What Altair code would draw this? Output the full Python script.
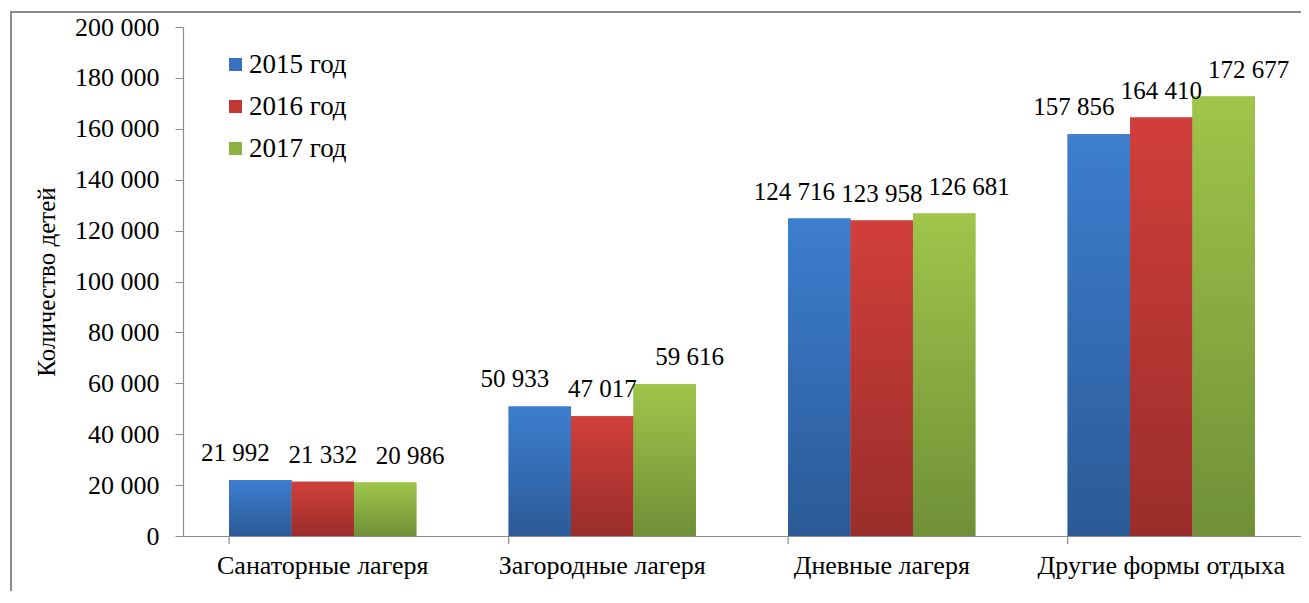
import altair as alt
import pandas as pd

categories = ["Санаторные лагеря", "Загородные лагеря", "Дневные лагеря", "Другие формы отдыха"]
years = ["2015 год", "2016 год", "2017 год"]
values_2015 = [21992, 50933, 124716, 157856]
values_2016 = [21332, 47017, 123958, 164410]
values_2017 = [20986, 59616, 126681, 172677]

top_colors = ["#3d7ecf", "#d13f3b", "#9fc54a"]
bottom_colors = ["#2b5a96", "#9a2d2b", "#6f9037"]
solid_colors = ["#3672c0", "#c33735", "#8db243"]
label_spread = [-25, 0, 25]

rows = []
for yr, vals in zip(years, [values_2015, values_2016, values_2017]):
    for c, v in zip(categories, vals):
        rows.append({"cat": c, "year": yr, "value": v,
                     "label": f"{v:,}".replace(",", " ")})
df = pd.DataFrame(rows)

W, H = 1118, 509
FONT = "'Times New Roman', 'Liberation Serif', serif"

x_enc = alt.X("cat:N", sort=categories,
              scale=alt.Scale(domain=categories, paddingInner=0.33, paddingOuter=0.165),
              axis=alt.Axis(title=None, ticks=False, labelFontSize=26, labelFont=FONT,
                            labelColor="#000", labelPadding=16, domainColor="#8c8c8c",
                            domainWidth=1.2, labelAngle=0, labelLimit=600))
xo_enc = alt.XOffset("year:N", scale=alt.Scale(domain=years, paddingInner=0, paddingOuter=0))
y_enc = alt.Y("value:Q", scale=alt.Scale(domain=[0, 200000], nice=False),
              axis=alt.Axis(title="Количество детей", titleFont=FONT, titleFontSize=25,
                            titleFontWeight="normal", titleColor="#000", titlePadding=15,
                            values=list(range(0, 200001, 20000)),
                            labelExpr="replace(format(datum.value, ','), ',', ' ')",
                            labelFont=FONT, labelFontSize=26, labelColor="#000",
                            labelPadding=16, tickSize=8, tickColor="#8c8c8c",
                            domainColor="#8c8c8c", domainWidth=1.2, grid=False))

base = alt.Chart(df)

bars = base.mark_bar().encode(
    x=x_enc, xOffset=xo_enc, y=y_enc,
    color=alt.Color("year:N", scale=alt.Scale(domain=years, range=solid_colors),
                    legend=alt.Legend(title=None, orient="none", legendX=39, legendY=24,
                                      symbolType="square", symbolSize=169,
                                      symbolStrokeWidth=0, labelFont=FONT,
                                      labelFontSize=27, labelColor="#000",
                                      labelOffset=0, rowPadding=14, padding=0)),
)

grad_layers = []
label_layers = []
for yr, tc, bc, dx in zip(years, top_colors, bottom_colors, label_spread):
    grad = alt.LinearGradient(gradient="linear",
                              stops=[alt.GradientStop(color=tc, offset=0),
                                     alt.GradientStop(color=bc, offset=1)],
                              x1=0, x2=0, y1=0, y2=1)
    sub = base.transform_filter(alt.datum.year == yr)
    grad_layers.append(
        sub.mark_bar(color=grad).encode(
            x=alt.X("cat:N", sort=categories), xOffset=alt.XOffset("year:N"), y="value:Q")
    )
    label_layers.append(
        sub.mark_text(font=FONT, fontSize=25, color="#000", baseline="middle",
                      dy=-27, dx=dx).encode(
            x=alt.X("cat:N", sort=categories), xOffset=alt.XOffset("year:N"),
            y="value:Q", text="label:N")
    )

cat_df = pd.DataFrame({"cat": categories})
xticks = alt.Chart(cat_df).mark_rule(color="#8c8c8c", strokeWidth=1.2).encode(
    x=alt.X("cat:N", sort=categories, bandPosition=0),
    y=alt.value(H), y2=alt.value(H + 8))

border = alt.Chart(pd.DataFrame({"a": [0]})).mark_rect(
    fill="transparent", stroke="#8c8c8c", strokeWidth=2).encode(
    x=alt.value(-172), x2=alt.value(W + 60), y=alt.value(-15), y2=alt.value(H + 120))

chart = alt.layer(bars, *grad_layers, *label_layers, xticks, border).properties(
    width=W, height=H, autosize="none",
    padding={"left": 175, "top": 19, "right": 0, "bottom": 55},
).configure_view(stroke=None)

chart.save("out.html", embed_options={"renderer": "svg", "actions": False})
